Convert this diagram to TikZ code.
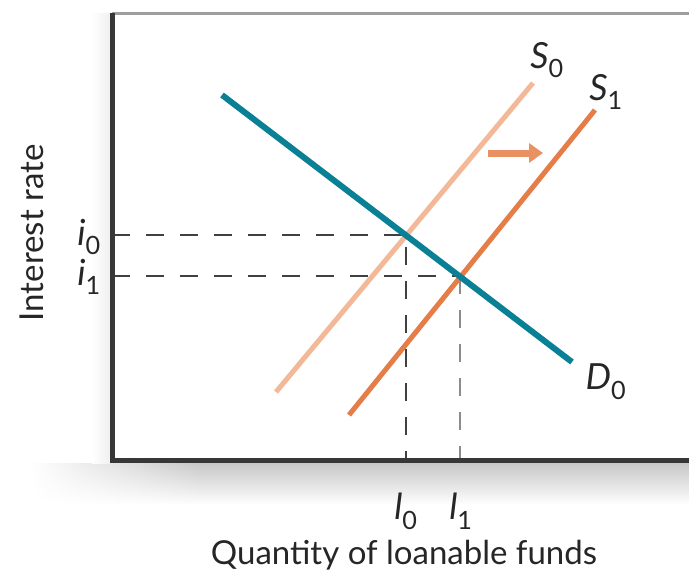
\documentclass[tikz,border=0pt]{standalone}
\usepackage{fontspec}
\setmainfont{Lato}
\usetikzlibrary{arrows.meta,fadings}
\definecolor{demandteal}{RGB}{10,128,150}
\definecolor{supplylight}{RGB}{243,184,152}
\definecolor{supplydark}{RGB}{228,125,72}
\definecolor{shiftorange}{RGB}{234,145,100}
\definecolor{axisdark}{RGB}{55,55,55}
\tikzfading[name=fadein, left color=transparent!100, right color=transparent!0]

\begin{document}
\begin{tikzpicture}[x=1pt,y=-1pt,
        demand/.style={line width=6pt, demandteal},
        supplyold/.style={line width=5pt, supplylight},
        supplynew/.style={line width=5pt, supplydark},
        guide/.style={line width=2.5pt, dash pattern=on 18pt off 16pt, black!75},
        axisline/.style={line width=5pt, axisdark},
        tag/.style={font=\fontsize{36}{38}\selectfont, inner sep=0pt, text=black!85},
        axislabel/.style={font=\fontsize{33}{36}\selectfont, inner sep=0pt, text=black!85}
    ]
    \useasboundingbox (0,0) rectangle (689,576);
    \shade[top color=black!22, bottom color=white, path fading=fadein, fit fading=true] (30,463) rectangle (200,505);
    \shade[top color=black!22, bottom color=white] (199,463) rectangle (689,505);
    \shade[left color=white, right color=black!6] (92,13) rectangle (110,463);

    \coordinate (ytop) at (112,13);
    \coordinate (origin) at (112,460);
    \coordinate (xend) at (689,460);
    \coordinate (rtop) at (689,13);

    \coordinate (d0a) at (222,95);
    \coordinate (d0b) at (572,362);
    \coordinate (s0a) at (276,392);
    \coordinate (s0b) at (533,83);
    \coordinate (s1a) at (349,415);
    \coordinate (s1b) at (595,110);
    \coordinate (e0) at (406,235);
    \coordinate (e1) at (460,276);
    \coordinate (shifta) at (488,153);
    \coordinate (shiftb) at (543,153);

    \draw[guide] (origin |- e0) -- (e0) -- (e0 |- origin);
    \draw[guide] (origin |- e1) -- (e1);
    \draw[guide, black!45] (e1) -- (e1 |- origin);

    \draw[supplyold] (s0a) -- (s0b);
    \draw[supplynew] (s1a) -- (s1b);
    \draw[demand] (d0a) -- (d0b);
    \draw[line width=7pt, shiftorange, -{Triangle[length=14pt,width=19pt]}] (shifta) -- (shiftb);

    \draw[line width=3pt, black!38] (ytop) -- (rtop);
    \draw[axisline] (ytop) -- (origin) -- (xend);

    \node[tag] (s0lbl) at (547,60) {\textit{S}\textsubscript{0}};
    \node[tag] (s1lbl) at (606,92) {\textit{S}\textsubscript{1}};
    \node[tag] (d0lbl) at (606,382) {\textit{D}\textsubscript{0}};
    \node[tag] (i0lbl) at (89,237) {\textit{i}\textsubscript{0}};
    \node[tag] (i1lbl) at (89,277) {\textit{i}\textsubscript{1}};
    \node[tag] (l0lbl) at (406,511) {\textit{l}\textsubscript{0}};
    \node[tag] (l1lbl) at (461,511) {\textit{l}\textsubscript{1}};
    \node[axislabel] (xlbl) at (404,555) {Quantity of loanable funds};
    \node[axislabel, rotate=90] (ylbl) at (32,233) {Interest rate};
\end{tikzpicture}
\end{document}
